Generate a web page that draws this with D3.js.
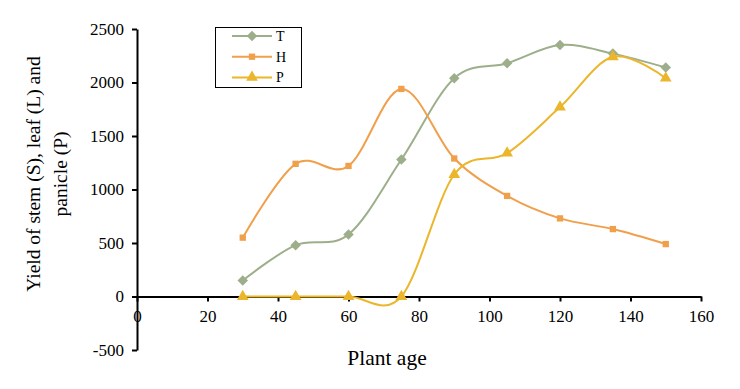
<!DOCTYPE html>
<html>
<head>
<meta charset="utf-8">
<script src="https://cdn.jsdelivr.net/npm/d3@7"></script>
<style>
  body { margin: 0; background: #fff; }
  svg { display: block; }
</style>
</head>
<body>
<div id="container"></div>
<script>
const ages = [30, 45, 60, 75, 90, 105, 120, 135, 150];
const tValues = [150, 480, 580, 1280, 2040, 2180, 2350, 2270, 2140];
const hValues = [550, 1240, 1220, 1940, 1290, 940, 730, 630, 490];
const pValues = [0, 0, 0, 0, 1140, 1340, 1770, 2240, 2040];
const seriesNames = ['T', 'H', 'P'];
const xTicks = [0, 20, 40, 60, 80, 100, 120, 140, 160];
const yTicks = [-500, 0, 500, 1000, 1500, 2000, 2500];

const svgWidth = 740;
const svgHeight = 389;
const serif = "'Liberation Serif', 'Times New Roman', serif";

const svg = d3
  .select('#container')
  .append('svg')
  .attr('width', svgWidth)
  .attr('height', svgHeight);

const xScale = d3.scaleLinear().domain([0, 160]).range([137, 701]);
const yScale = d3.scaleLinear().domain([-500, 2500]).range([350, 29]);

// plain integers with an ascii minus, like the original
const fmt = d => String(d);

const styleAxis = g => {
  g.select('.domain').attr('stroke', '#000').attr('stroke-width', 2);
  g.selectAll('.tick line').attr('stroke', '#000').attr('stroke-width', 2);
  g.selectAll('.tick text')
    .style('font-family', serif)
    .style('font-size', '17px')
    .style('fill', '#000');
};

// Y axis
const yAxis = d3.axisLeft(yScale).tickValues(yTicks).tickFormat(fmt).tickSize(5).tickSizeOuter(0).tickPadding(8);
svg.append('g').attr('transform', `translate(${xScale(0)},0)`).call(yAxis).call(styleAxis);

// X axis on zero line
const xAxis = d3.axisBottom(xScale).tickValues(xTicks).tickFormat(fmt).tickSize(5).tickSizeOuter(0).tickPadding(8);
svg.append('g').attr('transform', `translate(0,${yScale(0)})`).call(xAxis).call(styleAxis);

// axis titles
svg
  .append('text')
  .attr('x', 387)
  .attr('y', 365)
  .attr('text-anchor', 'middle')
  .style('font-family', serif)
  .style('font-size', '21.5px')
  .text('Plant age');

const yTitle = svg
  .append('text')
  .attr('transform', 'translate(40,174) rotate(-90)')
  .attr('text-anchor', 'middle')
  .style('font-family', serif)
  .style('font-size', '19.5px');
yTitle.append('tspan').attr('x', 0).attr('dy', 0).text('Yield of stem (S), leaf (L) and');
yTitle.append('tspan').attr('x', 0).attr('dy', 27).text('panicle (P)');

// Series
const series = [
  { name: seriesNames[0], values: tValues, color: '#9DAF8A', marker: d3.symbolDiamond2, size: 70 },
  { name: seriesNames[1], values: hValues, color: '#F0A04B', marker: d3.symbolSquare, size: 40 },
  { name: seriesNames[2], values: pValues, color: '#EBB62B', marker: d3.symbolTriangle, size: 60 }
];

const line = d3
  .line()
  .x(d => xScale(d[0]))
  .y(d => yScale(d[1]))
  .curve(d3.curveCatmullRom.alpha(0));

series.forEach(s => {
  const pts = ages.map((a, i) => [a, s.values[i]]);
  svg
    .append('path')
    .attr('d', line(pts))
    .attr('fill', 'none')
    .attr('stroke', s.color)
    .attr('stroke-width', 2);
  svg
    .selectAll(null)
    .data(pts)
    .enter()
    .append('path')
    .attr('d', d3.symbol().type(s.marker).size(s.size))
    .attr('transform', d => `translate(${xScale(d[0])},${yScale(d[1])})`)
    .attr('fill', s.color);
});

// Legend
const legend = svg.append('g');
legend
  .append('rect')
  .attr('x', 215.5)
  .attr('y', 27.5)
  .attr('width', 86)
  .attr('height', 60)
  .attr('fill', '#fff')
  .attr('stroke', '#000')
  .attr('stroke-width', 1);

series.forEach((s, i) => {
  const y = 36 + i * 20.7;
  legend
    .append('line')
    .attr('x1', 232)
    .attr('x2', 272)
    .attr('y1', y)
    .attr('y2', y)
    .attr('stroke', s.color)
    .attr('stroke-width', 2);
  legend
    .append('path')
    .attr('d', d3.symbol().type(s.marker).size(s.size))
    .attr('transform', `translate(252,${y})`)
    .attr('fill', s.color);
  legend
    .append('text')
    .attr('x', 276)
    .attr('y', y + 5)
    .style('font-family', serif)
    .style('font-size', '14px')
    .text(s.name);
});
</script>
</body>
</html>
